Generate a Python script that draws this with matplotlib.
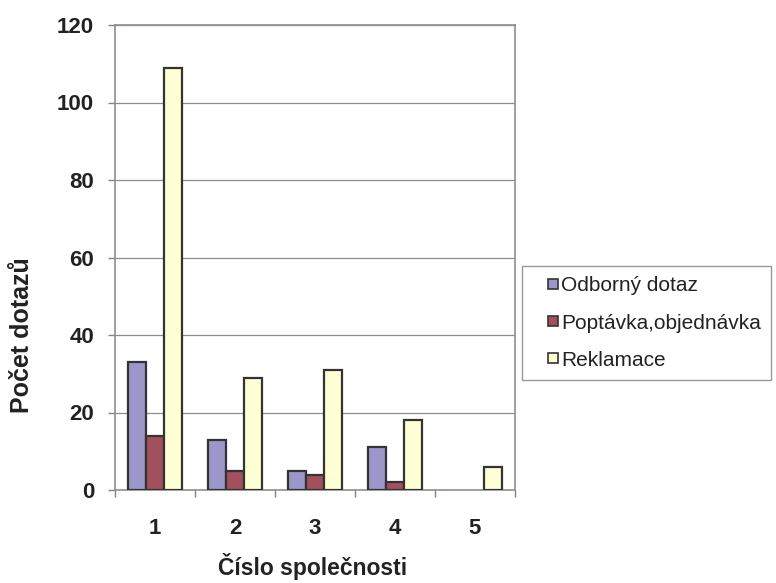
import matplotlib
matplotlib.use("Agg")
import matplotlib.pyplot as plt
from matplotlib.lines import Line2D
import numpy as np

categories = ["1", "2", "3", "4", "5"]
series_names = ["Odborný dotaz", "Poptávka,objednávka", "Reklamace"]
odborny = [33, 13, 5, 11, 0]
poptavka = [14, 5, 4, 2, 0]
reklamace = [109, 29, 31, 18, 6]
series = [odborny, poptavka, reklamace]
colors = ["#9B97CB", "#A2505E", "#FFFFD5"]

plt.rcParams['font.family'] = ['Liberation Sans', 'DejaVu Sans']
txt_color = "#222222"
edge = "#333333"

W, H = 776, 583
fig = plt.figure(figsize=(W/100, H/100), dpi=100)
ax = fig.add_axes([115/W, 1-490/H, 400/W, 465/H])

x = np.arange(len(categories))
bw = 1/4.5
for i, (vals, c, name) in enumerate(zip(series, colors, series_names)):
    bars = ax.bar(x + (i-1)*bw, vals, width=bw, color=c, edgecolor=edge,
                  linewidth=1.6, label=name, zorder=3)
    for b, v in zip(bars, vals):
        if v == 0:
            b.set_visible(False)

ax.set_xlim(-0.5, 4.5)
ax.set_ylim(0, 120)
ax.set_yticks(np.arange(0, 121, 20))
ax.yaxis.grid(True, color="#8c8c8c", linewidth=0.9, zorder=0)
ax.set_xticks(x)
ax.set_xticklabels(categories, fontweight="bold", fontsize=16, color=txt_color)
ax.set_xticks(np.arange(-0.5, 5, 1), minor=True)
ax.tick_params(axis="x", which="major", length=0, pad=20)
ax.tick_params(axis="x", which="minor", length=5, color="#8c8080", width=1)
ax.tick_params(axis="y", length=5, color="#8c8080", width=1, labelsize=16,
               pad=10, labelcolor=txt_color)
for lab in ax.get_yticklabels():
    lab.set_fontweight("bold")
for s in ax.spines.values():
    s.set_color("#9a8a8a")
    s.set_linewidth(1.2)

fig.text(22/W, 1-335/H, "Počet dotazů", rotation=90, ha="center", va="center",
         fontsize=18, fontweight="bold", color=txt_color)
fig.text(313/W, 1-567/H, "Číslo společnosti", ha="center", va="center",
         fontsize=16.5, fontweight="bold", color=txt_color)

handles = [Line2D([], [], linestyle="none", marker="s", markersize=7.9,
                  markerfacecolor=c, markeredgecolor=edge, markeredgewidth=1.2)
           for c in colors]
leg = fig.legend(handles, series_names, loc="upper left",
                 bbox_to_anchor=(522/W, 1-266/H),
                 fontsize=15, frameon=True, fancybox=False, handlelength=1.93,
                 handletextpad=-0.55, labelspacing=0.87,
                 borderpad=0.5, borderaxespad=0)
leg.get_frame().set_edgecolor("#808080")
leg.get_frame().set_linewidth(1.0)
for t in leg.get_texts():
    t.set_color(txt_color)

fig.savefig("out.png", dpi=100)
